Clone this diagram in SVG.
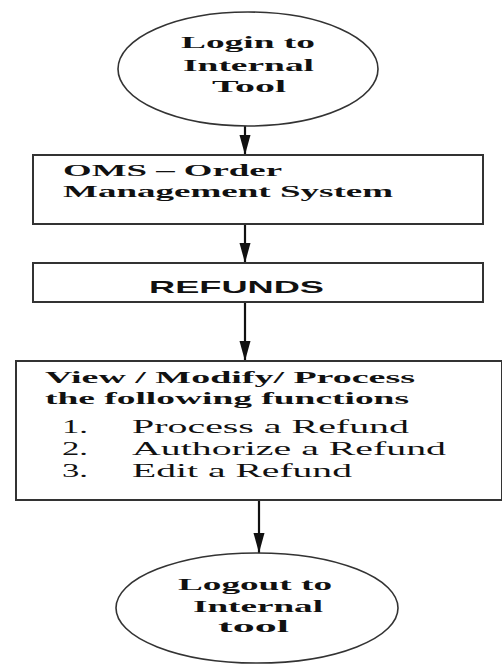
<svg xmlns="http://www.w3.org/2000/svg" width="502" height="664" viewBox="0 0 502 664">
<style>
.shape{fill:#fff;stroke:#333;stroke-width:2}
.oval{fill:#fff;stroke:#333;stroke-width:1.6}
.conn{stroke:#111;stroke-width:2.2;fill:none}
.tb{font-family:"Liberation Serif",serif;font-weight:bold;font-size:17.5px;fill:#111}
.tr{font-family:"Liberation Serif",serif;font-size:18.5px;fill:#111}
.ts{font-family:"Liberation Sans",sans-serif;font-weight:bold;font-size:17px;fill:#111}
</style>
<defs>
<marker id="ah" markerUnits="userSpaceOnUse" markerWidth="22" markerHeight="12" refX="20" refY="5.5" orient="auto">
<path d="M0,0 L20,5.5 L0,11 z" fill="#111"/>
</marker>
</defs>
<rect width="502" height="664" fill="#fff"/>
<g id="connectors">
<line class="conn" x1="245" y1="126" x2="245" y2="155" marker-end="url(#ah)"/>
<line class="conn" x1="245" y1="224" x2="245" y2="263" marker-end="url(#ah)"/>
<line class="conn" x1="245" y1="302" x2="245" y2="361" marker-end="url(#ah)"/>
<line class="conn" x1="259" y1="500" x2="259" y2="553" marker-end="url(#ah)"/>
</g>
<g id="login">
<ellipse class="oval" cx="248" cy="69" rx="130" ry="57"/>
<text class="tb" x="181" y="48" textLength="134" lengthAdjust="spacingAndGlyphs">Login to</text>
<text class="tb" x="183" y="71" textLength="131" lengthAdjust="spacingAndGlyphs">Internal</text>
<text class="tb" x="212" y="92" textLength="74" lengthAdjust="spacingAndGlyphs">Tool</text>
</g>
<g id="oms">
<rect class="shape" x="33" y="155" width="450" height="69"/>
<text class="tb" x="63" y="176" textLength="219" lengthAdjust="spacingAndGlyphs">OMS – Order</text>
<text class="tb" x="63" y="197" textLength="330" lengthAdjust="spacingAndGlyphs">Management System</text>
</g>
<g id="refunds">
<rect class="shape" x="33" y="263" width="450" height="39"/>
<text class="ts" x="149" y="293" textLength="175" lengthAdjust="spacingAndGlyphs">REFUNDS</text>
</g>
<g id="functions">
<rect class="shape" x="16" y="361" width="486" height="139"/>
<text class="tb" x="45" y="383" textLength="370" lengthAdjust="spacingAndGlyphs">View / Modify/ Process</text>
<text class="tb" x="45" y="404" textLength="364" lengthAdjust="spacingAndGlyphs">the following functions</text>
<text class="tr" x="62" y="433" textLength="26" lengthAdjust="spacingAndGlyphs">1.</text>
<text class="tr" x="132" y="433" textLength="277" lengthAdjust="spacingAndGlyphs">Process a Refund</text>
<text class="tr" x="62" y="455" textLength="26" lengthAdjust="spacingAndGlyphs">2.</text>
<text class="tr" x="132" y="455" textLength="314" lengthAdjust="spacingAndGlyphs">Authorize a Refund</text>
<text class="tr" x="62" y="477" textLength="26" lengthAdjust="spacingAndGlyphs">3.</text>
<text class="tr" x="132" y="477" textLength="220" lengthAdjust="spacingAndGlyphs">Edit a Refund</text>
</g>
<g id="logout">
<ellipse class="oval" cx="257" cy="608" rx="141" ry="55"/>
<text class="tb" x="178" y="590" textLength="154" lengthAdjust="spacingAndGlyphs">Logout to</text>
<text class="tb" x="193" y="612" textLength="130" lengthAdjust="spacingAndGlyphs">Internal</text>
<text class="tb" x="218" y="632" textLength="71" lengthAdjust="spacingAndGlyphs">tool</text>
</g>
</svg>
